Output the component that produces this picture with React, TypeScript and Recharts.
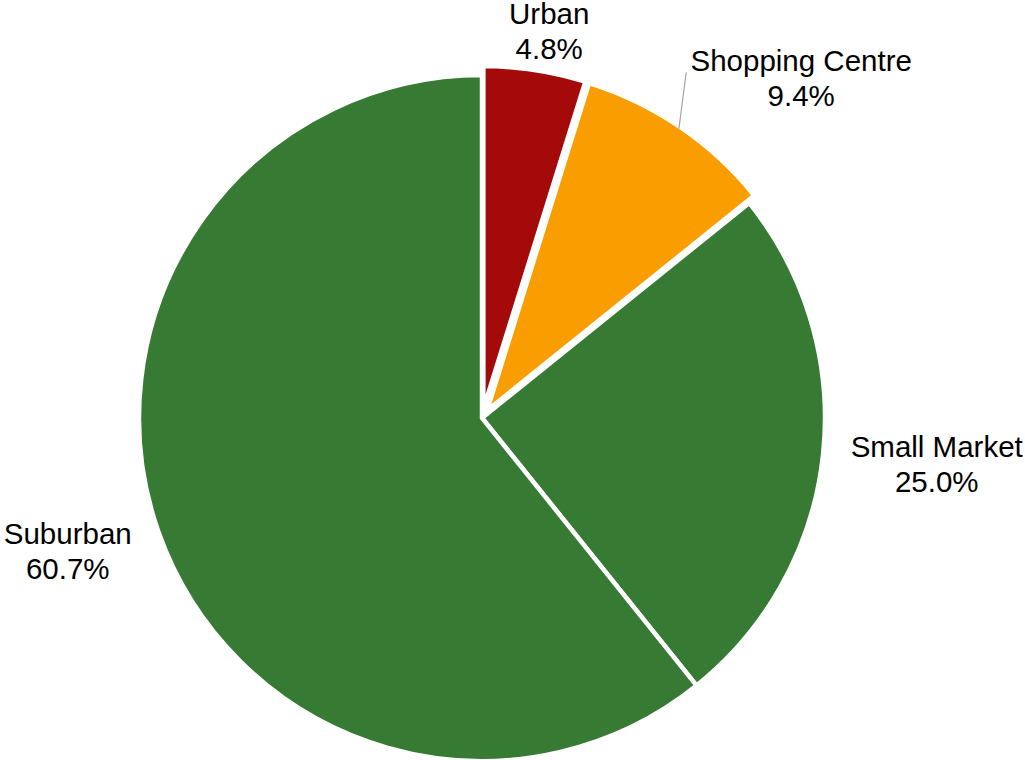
import React from "react";
import { PieChart, Pie, Cell } from "recharts";

const categories = ["Urban", "Shopping Centre", "Small Market", "Suburban"];
const shares = [4.8, 9.4, 25.0, 60.7];
const colors = ["#A50A0A", "#F99D00", "#367A33", "#367A33"];
// slices pulled out from the centre (px)
const explode = [9, 9, 0, 0];

// label placement styling: radial distance from centre, angular tweak (deg), optional leader line
const labelStyle = [
  { r: 393, dA: -1.2, leader: null as null | { dx: number; dy: number } },
  { r: 466, dA: -9.0, leader: { dx: -115, dy: -6 } },
  { r: 457, dA: 0.5, leader: null },
  { r: 435, dA: -1.6, leader: null },
];

const data = categories.map((name, i) => ({ name, value: shares[i] }));

const RAD = Math.PI / 180;
const CX = 482;
const CY = 418;
const R = 343;
const START = 90;

const total = shares.reduce((a, b) => a + b, 0);
const midAngles = shares.map((v, i) => {
  const before = shares.slice(0, i).reduce((a, b) => a + b, 0);
  return START - ((before + v / 2) / total) * 360;
});

const FONT = "'Liberation Sans', Arial, sans-serif";

const renderLabel = (props: any) => {
  const { cx, cy, midAngle, outerRadius, index } = props;
  const st = labelStyle[index];
  const a = (midAngle + st.dA) * RAD;
  const x = cx + st.r * Math.cos(a);
  const y = cy - st.r * Math.sin(a);
  const er = outerRadius + explode[index] - 2;
  const ex = cx + er * Math.cos(midAngle * RAD);
  const ey = cy - er * Math.sin(midAngle * RAD);
  return (
    <g key={`lbl-${index}`}>
      {st.leader && (
        <line x1={ex} y1={ey} x2={x + st.leader.dx} y2={y + st.leader.dy} stroke="#A6A6A6" strokeWidth={1.2} />
      )}
      <text x={x} y={y} textAnchor="middle" fontFamily={FONT} fontSize={29.5} fill="#000">
        <tspan x={x} y={y - 17.5} dominantBaseline="central">{categories[index]}</tspan>
        <tspan x={x} y={y + 17.5} dominantBaseline="central">{shares[index].toFixed(1) + "%"}</tspan>
      </text>
    </g>
  );
};

export default function App() {
  return (
    <div style={{ position: "absolute", left: 0, top: 0, width: 1025, height: 760, background: "#fff", overflow: "hidden" }}>
      <PieChart width={1025} height={760} margin={{ top: 0, right: 0, bottom: 0, left: 0 }}>
        <Pie
          data={data}
          dataKey="value"
          nameKey="name"
          cx={CX}
          cy={CY}
          outerRadius={R}
          startAngle={START}
          endAngle={START - 360}
          stroke="#FFFFFF"
          strokeWidth={4.5}
          labelLine={false}
          isAnimationActive={false}
        >
          {data.map((d, i) => (
            <Cell
              key={d.name}
              fill={explode[i] ? "transparent" : colors[i]}
              stroke={explode[i] ? "none" : "#FFFFFF"}
            />
          ))}
        </Pie>
        {data.map((d, k) =>
          explode[k] ? (
            <Pie
              key={`ex-${k}`}
              data={data}
              dataKey="value"
              nameKey="name"
              cx={CX + explode[k] * Math.cos(midAngles[k] * RAD)}
              cy={CY - explode[k] * Math.sin(midAngles[k] * RAD)}
              outerRadius={R}
              startAngle={START}
              endAngle={START - 360}
              stroke="#FFFFFF"
              strokeWidth={4.5}
              labelLine={false}
              isAnimationActive={false}
            >
              {data.map((c, i) => (
                <Cell
                  key={c.name}
                  fill={i === k ? colors[i] : "transparent"}
                  stroke={i === k ? "#FFFFFF" : "none"}
                />
              ))}
            </Pie>
          ) : null
        )}
        <Pie
          data={data}
          dataKey="value"
          nameKey="name"
          cx={CX}
          cy={CY}
          outerRadius={R}
          startAngle={START}
          endAngle={START - 360}
          fill="transparent"
          stroke="none"
          label={renderLabel}
          labelLine={false}
          isAnimationActive={false}
        >
          {data.map((d) => (
            <Cell key={d.name} fill="transparent" stroke="none" />
          ))}
        </Pie>
      </PieChart>
    </div>
  );
}
